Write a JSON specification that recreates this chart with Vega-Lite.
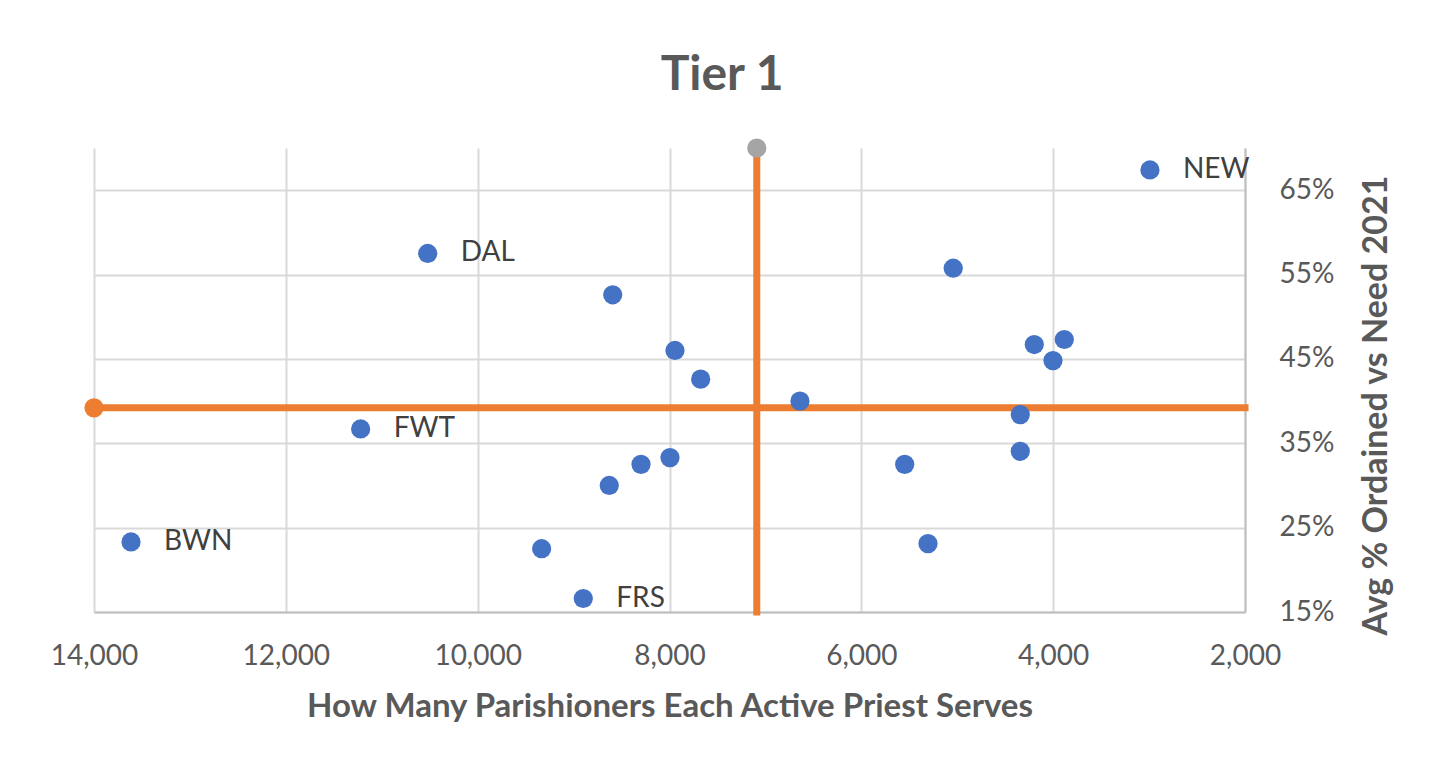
{
  "$schema": "https://vega.github.io/schema/vega-lite/v6.json",
  "width": 1151,
  "height": 464,
  "autosize": {"type": "none"},
  "padding": {"left": 94, "top": 148, "right": 205, "bottom": 165},
  "background": "white",
  "title": {
    "text": "Tier 1",
    "font": "Lato",
    "fontSize": 48,
    "fontWeight": "bold",
    "color": "#595959",
    "anchor": "middle",
    "frame": "bounds",
    "offset": 34,
    "dx": 0
  },
  "config": {
    "view": {"stroke": null},
    "font": "Lato"
  },
  "datasets": {
    "points": [
      {"parishioners": 2991, "pct": 0.674, "diocese": "NEW"},
      {"parishioners": 10521, "pct": 0.575, "diocese": "DAL"},
      {"parishioners": 8592, "pct": 0.526, "diocese": ""},
      {"parishioners": 7943, "pct": 0.460, "diocese": ""},
      {"parishioners": 7675, "pct": 0.426, "diocese": ""},
      {"parishioners": 6640, "pct": 0.400, "diocese": ""},
      {"parishioners": 5042, "pct": 0.5575, "diocese": ""},
      {"parishioners": 4197, "pct": 0.467, "diocese": ""},
      {"parishioners": 3884, "pct": 0.473, "diocese": ""},
      {"parishioners": 4002, "pct": 0.448, "diocese": ""},
      {"parishioners": 4343, "pct": 0.384, "diocese": ""},
      {"parishioners": 4343, "pct": 0.3405, "diocese": ""},
      {"parishioners": 5548, "pct": 0.325, "diocese": ""},
      {"parishioners": 5305, "pct": 0.231, "diocese": ""},
      {"parishioners": 11220, "pct": 0.367, "diocese": "FWT"},
      {"parishioners": 7995, "pct": 0.333, "diocese": ""},
      {"parishioners": 8297, "pct": 0.325, "diocese": ""},
      {"parishioners": 8628, "pct": 0.300, "diocese": ""},
      {"parishioners": 13614, "pct": 0.233, "diocese": "BWN"},
      {"parishioners": 9333, "pct": 0.225, "diocese": ""},
      {"parishioners": 8899, "pct": 0.166, "diocese": "FRS"}
    ],
    "hline": [
      {"parishioners": 14000, "pct": 0.392, "marker": true},
      {"parishioners": 2000, "pct": 0.392, "marker": false}
    ],
    "vline": [
      {"parishioners": 7090, "pct": 0.70, "marker": true},
      {"parishioners": 7090, "pct": 0.15, "marker": false}
    ]
  },
  "encoding": {
    "x": {
      "field": "parishioners",
      "type": "quantitative",
      "scale": {"domain": [2000, 14000], "reverse": true, "nice": false, "zero": false},
      "axis": {
        "title": "How Many Parishioners Each Active Priest Serves",
        "values": [2000, 4000, 6000, 8000, 10000, 12000, 14000],
        "format": ",d",
        "grid": true,
        "gridColor": "#D9D9D9",
        "gridWidth": 2,
        "domainColor": "#BFBFBF",
        "domainWidth": 2,
        "ticks": false,
        "labelFlush": false,
        "labelFont": "Lato",
        "labelFontSize": 28,
        "labelColor": "#595959",
        "labelPadding": 30,
        "labelBaseline": "top",
        "titleFont": "Lato",
        "titleFontSize": 33,
        "titleFontWeight": "bold",
        "titleColor": "#595959",
        "titlePadding": 20
      }
    },
    "y": {
      "field": "pct",
      "type": "quantitative",
      "scale": {"domain": [0.15, 0.70], "nice": false, "zero": false},
      "axis": {
        "orient": "right",
        "title": "Avg % Ordained vs Need 2021",
        "values": [0.15, 0.25, 0.35, 0.45, 0.55, 0.65],
        "format": ".0%",
        "grid": true,
        "gridColor": "#D9D9D9",
        "gridWidth": 2,
        "domainColor": "#BFBFBF",
        "domainWidth": 2,
        "ticks": false,
        "labelFlush": false,
        "labelFont": "Lato",
        "labelFontSize": 28,
        "labelColor": "#595959",
        "labelPadding": 34,
        "titleFont": "Lato",
        "titleFontSize": 34,
        "titleFontWeight": "bold",
        "titleColor": "#595959",
        "titleAngle": 270,
        "titleBaseline": "top",
        "titlePadding": 26,
        "titleY": 257
      }
    }
  },
  "layer": [
    {
      "data": {"name": "vline"},
      "mark": {"type": "line", "color": "#ED7D31", "strokeWidth": 7, "strokeCap": "square", "clip": false}
    },
    {
      "data": {"name": "hline"},
      "mark": {"type": "line", "color": "#ED7D31", "strokeWidth": 7, "strokeCap": "square", "clip": false}
    },
    {
      "data": {"name": "hline"},
      "transform": [{"filter": "datum.marker"}],
      "mark": {"type": "circle", "color": "#ED7D31", "opacity": 1, "size": 370, "clip": false}
    },
    {
      "data": {"name": "vline"},
      "transform": [{"filter": "datum.marker"}],
      "mark": {"type": "circle", "color": "#A5A5A5", "opacity": 1, "size": 370, "clip": false}
    },
    {
      "data": {"name": "points"},
      "mark": {"type": "circle", "color": "#4472C4", "opacity": 1, "size": 370, "clip": false}
    },
    {
      "data": {"name": "points"},
      "mark": {"type": "text", "align": "left", "baseline": "middle", "dx": 33, "font": "Lato", "fontSize": 28, "color": "#404040", "clip": false},
      "encoding": {"text": {"field": "diocese"}}
    }
  ]
}
